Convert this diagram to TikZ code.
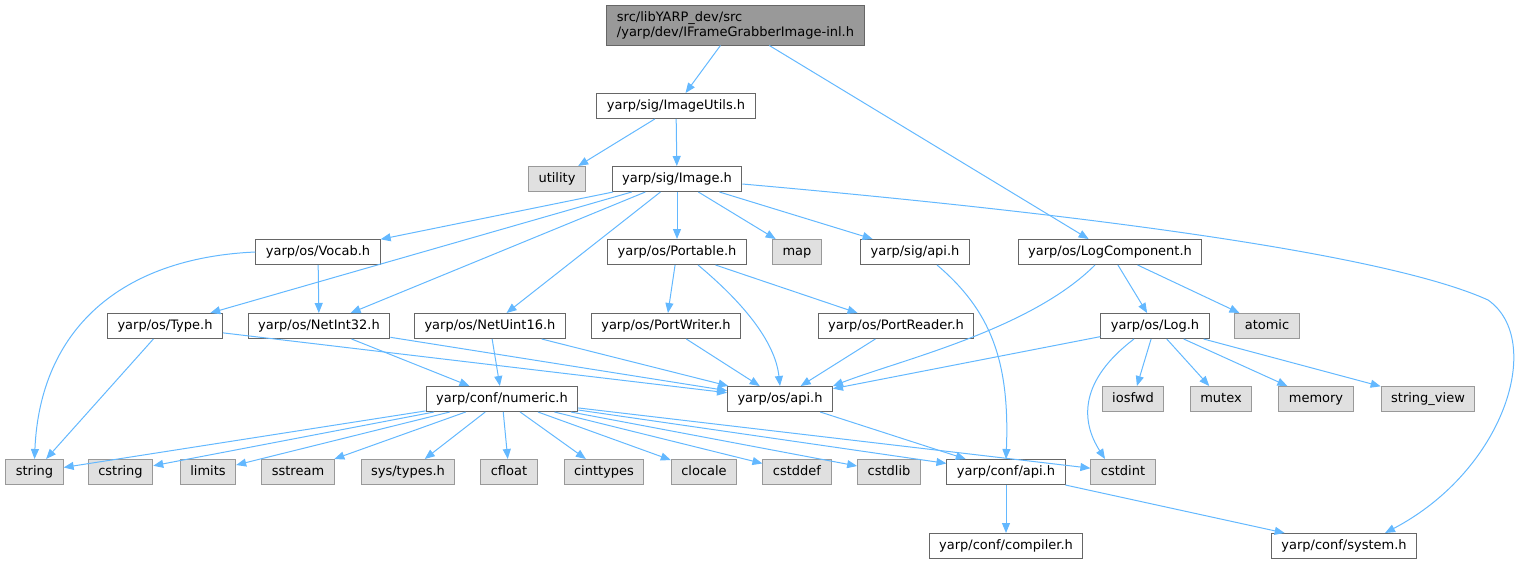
\documentclass[tikz,border=0pt]{standalone}
\usepackage{fontspec}
\setmainfont{DejaVu Sans}
\usetikzlibrary{arrows.meta}
\definecolor{edgeblue}{HTML}{63B8FF}
\definecolor{boxgray}{HTML}{666666}
\definecolor{extgray}{HTML}{999999}
\definecolor{extfill}{HTML}{E0E0E0}
\definecolor{rootfill}{HTML}{999999}
\tikzset{
    hdr/.style={draw=boxgray, fill=white, line width=0.75pt,
        minimum height=18.75pt, inner xsep=7.5pt, inner ysep=0pt,
        text height=7.3pt, text depth=2.1pt,
        font={\fontsize{9.75}{11.7}\selectfont}},
    sysh/.style={hdr, draw=extgray, fill=extfill},
    dep/.style={draw=edgeblue, line width=0.75pt,
        -{Triangle[length=7.5pt, width=6pt]}},
}
\begin{document}
\begin{tikzpicture}[x=0.75pt, y=-0.75pt]
    \useasboundingbox (0,0) rectangle (1519,564);
    % file whose includes are shown
    \node[draw=boxgray, fill=rootfill, line width=0.75pt, align=left,
        minimum height=30pt, inner xsep=7.5pt,
        font={\fontsize{9.75}{11.25}\selectfont}]
        (root) at (735.5,25) {src/libYARP\_dev/src\\/yarp/dev/IFrameGrabberImage-inl.h};
    % yarp headers
    \node[hdr] (imgutils) at (676,106) {yarp/sig/ImageUtils.h};
    \node[hdr] (image) at (677,179) {yarp/sig/Image.h};
    \node[hdr] (vocab) at (318,252) {yarp/os/Vocab.h};
    \node[hdr] (portable) at (677,252) {yarp/os/Portable.h};
    \node[hdr] (sigapi) at (915,252) {yarp/sig/api.h};
    \node[hdr] (logcomp) at (1110,252) {yarp/os/LogComponent.h};
    \node[hdr] (type) at (165,326) {yarp/os/Type.h};
    \node[hdr] (netint) at (319,326) {yarp/os/NetInt32.h};
    \node[hdr] (netuint) at (490,326) {yarp/os/NetUint16.h};
    \node[hdr] (pwriter) at (666,326) {yarp/os/PortWriter.h};
    \node[hdr] (preader) at (896,326) {yarp/os/PortReader.h};
    \node[hdr] (log) at (1155,326) {yarp/os/Log.h};
    \node[hdr] (numeric) at (502,399) {yarp/conf/numeric.h};
    \node[hdr] (osapi) at (780,399) {yarp/os/api.h};
    \node[hdr] (confapi) at (1006,472) {yarp/conf/api.h};
    \node[hdr] (compiler) at (1006,546) {yarp/conf/compiler.h};
    \node[hdr] (system) at (1344,546) {yarp/conf/system.h};
    % standard headers
    \node[sysh] (utility) at (557,179) {utility};
    \node[sysh] (map) at (797,252) {map};
    \node[sysh] (atomic) at (1267,326) {atomic};
    \node[sysh] (iosfwd) at (1133,399) {iosfwd};
    \node[sysh] (mutex) at (1221,399) {mutex};
    \node[sysh] (memory) at (1316,399) {memory};
    \node[sysh] (strview) at (1428,399) {string\_view};
    \node[sysh] (string) at (34.5,472) {string};
    \node[sysh] (cstring) at (120.5,472) {cstring};
    \node[sysh] (limits) at (208,472) {limits};
    \node[sysh] (sstream) at (298,472) {sstream};
    \node[sysh] (systypes) at (408,472) {sys/types.h};
    \node[sysh] (cfloat) at (509,472) {cfloat};
    \node[sysh] (cinttypes) at (604,472) {cinttypes};
    \node[sysh] (clocale) at (704,472) {clocale};
    \node[sysh] (cstddef) at (797,472) {cstddef};
    \node[sysh] (cstdlib) at (889,472) {cstdlib};
    \node[sysh] (cstdint) at (1123,472) {cstdint};

    % include edges
    \draw[dep] (root) -- (imgutils);
    \draw[dep] (root) -- (logcomp);
    \draw[dep] (imgutils) -- (utility);
    \draw[dep] (imgutils) -- (image);
    \foreach \t in {vocab, type, netint, netuint, portable, map, sigapi}
        \draw[dep] (image) -- (\t);
    \draw[dep] ([yshift=-3.75pt]image.east) .. controls (1150,220) and (1400,260) .. (1488,300)
        .. controls (1545,340) and (1505,470) .. ([xshift=30.75pt]system.north);
    \draw[dep] (vocab.west) .. controls (120,258) and (40,330) .. (string.north);
    \draw[dep] (vocab) -- (netint);
    \draw[dep] (portable) -- (pwriter);
    \draw[dep] (portable) -- (preader);
    \draw[dep] ([xshift=15.75pt]portable.south) .. controls (740,300) and (775,340) .. (osapi.north);
    \draw[dep] ([xshift=16.5pt]sigapi.south) .. controls (990,310) and (1010,360) .. (confapi.north);
    \draw[dep] ([xshift=-11.25pt]logcomp.south) .. controls (1030,330) and (900,360) .. (osapi.north east);
    \draw[dep] (logcomp) -- (log);
    \draw[dep] (logcomp) -- (atomic);
    \draw[dep] (type) -- (string);
    \foreach \s in {type, netint, netuint, pwriter, preader, log}
        \draw[dep] (\s) -- (osapi);
    \draw[dep] (netint) -- (numeric);
    \draw[dep] (netuint) -- (numeric);
    \foreach \t in {iosfwd, mutex, memory, strview}
        \draw[dep] (log) -- (\t);
    \draw[dep] ([xshift=-15.75pt]log.south) .. controls (1080,380) and (1080,420) .. ([xshift=-13.5pt]cstdint.north);
    \foreach \t in {string, cstring, limits, sstream, systypes, cfloat, cinttypes,
            clocale, cstddef, cstdlib, confapi, cstdint}
        \draw[dep] (numeric) -- (\t);
    \draw[dep] (osapi) -- (confapi);
    \draw[dep] (confapi) -- (compiler);
    \draw[dep] (confapi) -- (system);
\end{tikzpicture}
\end{document}
